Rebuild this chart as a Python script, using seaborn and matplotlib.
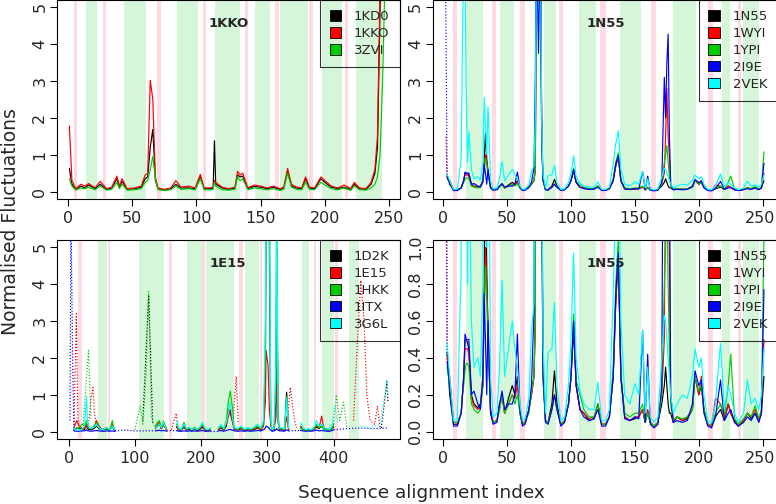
import matplotlib
matplotlib.use("Agg")
import matplotlib.pyplot as plt
import matplotlib.transforms as mtransforms
from matplotlib.patches import Patch
import seaborn as sns

sns.set_theme(style="white")
plt.rcParams['font.family'] = ['DejaVu Sans']

# R palette 1:5
pal = ['#000000', '#FF0000', '#00CD00', '#0000FF', '#00FFFF']
pink = '#FFDAE2'
mint = '#D6F6D9'

# ---------------- panel 1KKO ----------------
kko_labels = ['1KD0', '1KKO', '3ZVI']
kko_x = [1, 3, 6, 10, 13, 16, 21, 25, 30, 34,
         38, 40, 42, 46, 52, 57, 60, 62, 64, 66,
         68, 70, 75, 80, 84, 88, 94, 99, 103, 106,
         110, 113, 114, 115, 120, 125, 130, 132, 134, 136,
         140, 145, 150, 155, 160, 165, 168, 171, 174, 178,
         182, 185, 188, 192, 197, 200, 205, 210, 215, 220,
         223, 227, 232, 236, 239, 241, 243, 245, 247, 249]
kko_1kd0 = [0.63, 0.20, 0.06, 0.15, 0.10, 0.18, 0.08, 0.20, 0.06, 0.10,
            0.35, 0.12, 0.28, 0.06, 0.08, 0.12, 0.35, 0.40, 1.20, 1.69,
            0.30, 0.08, 0.05, 0.08, 0.20, 0.10, 0.10, 0.08, 0.40, 0.08,
            0.08, 0.10, 1.38, 0.20, 0.10, 0.06, 0.10, 0.45, 0.40, 0.42,
            0.08, 0.14, 0.12, 0.08, 0.12, 0.06, 0.10, 0.55, 0.15, 0.10,
            0.08, 0.35, 0.10, 0.08, 0.35, 0.25, 0.12, 0.08, 0.12, 0.06,
            0.20, 0.08, 0.06, 0.20, 0.50, 1.20, 5.00, 7.50, 9.00, 10.0]
kko_1kko = [1.78, 0.30, 0.08, 0.20, 0.15, 0.22, 0.10, 0.28, 0.08, 0.12,
            0.42, 0.15, 0.35, 0.08, 0.10, 0.15, 0.45, 0.50, 3.02, 2.50,
            0.40, 0.10, 0.06, 0.10, 0.30, 0.12, 0.15, 0.10, 0.47, 0.10,
            0.10, 0.12, 0.30, 0.25, 0.12, 0.08, 0.12, 0.55, 0.45, 0.50,
            0.10, 0.18, 0.15, 0.10, 0.15, 0.08, 0.12, 0.63, 0.20, 0.12,
            0.10, 0.40, 0.12, 0.10, 0.40, 0.30, 0.15, 0.10, 0.18, 0.08,
            0.25, 0.10, 0.08, 0.25, 0.60, 1.50, 5.50, 8.00, 9.00, 10.0]
kko_3zvi = [0.35, 0.15, 0.04, 0.10, 0.08, 0.12, 0.05, 0.15, 0.04, 0.06,
            0.25, 0.08, 0.20, 0.04, 0.05, 0.08, 0.25, 0.30, 0.60, 0.95,
            0.35, 0.05, 0.03, 0.05, 0.15, 0.06, 0.08, 0.05, 0.35, 0.05,
            0.05, 0.06, 0.25, 0.15, 0.05, 0.04, 0.06, 0.40, 0.30, 0.35,
            0.05, 0.10, 0.08, 0.05, 0.08, 0.03, 0.06, 0.50, 0.12, 0.06,
            0.05, 0.25, 0.06, 0.05, 0.25, 0.18, 0.08, 0.05, 0.10, 0.03,
            0.15, 0.05, 0.04, 0.10, 0.20, 0.40, 1.00, 3.00, 6.00, 9.00]
kko_pink = [(4.9, 6.8), (27, 29.4), (69, 72), (104.9, 107.2), (137.9, 140.4),
            (161.5, 164), (188, 191), (215.7, 217.8)]
kko_mint = [(14, 22.8), (43.9, 61), (85, 101.5), (114.5, 134), (145.5, 157),
            (165, 187), (197.5, 213), (224.5, 244.3)]

# ---------------- panel 1N55 (top right and bottom right) ----------------
n55_labels = ['1N55', '1WYI', '1YPI', '2I9E', '2VEK']
n55_x = [3, 5, 8, 11, 14, 15, 16, 17, 18, 19,
         20, 22, 24, 27, 29, 31, 32, 33, 34, 35,
         37, 39, 42, 44, 46, 48, 51, 54, 56, 58,
         60, 62, 64, 67, 69, 71, 72, 73, 74.5, 76,
         77, 78, 80, 82, 85, 87, 89, 92, 95, 98,
         100, 102, 104, 107, 110, 114, 118, 121, 124, 127,
         130, 133, 135, 137, 139, 142, 146, 150, 153, 156,
         158, 160, 162, 165, 168, 171, 173, 174, 175, 176,
         177, 178, 180, 183, 187, 191, 195, 197, 200, 202,
         204, 207, 210, 213, 217, 220, 223, 225, 228, 231,
         235, 238, 241, 244, 247, 249, 251]
n55_1n55 = [.43, .20, .04, .04, .10, .20, .30, .50, .50, .48,
            .45, .20, .15, .13, .15, .25, .80, 1.60, .90, .50,
            .12, .05, .06, .15, .20, .10, .18, .25, .20, .30,
            .10, .04, .05, .12, .20, .30, .60, 7.0, 7.0, 7.0,
            1.5, .30, .06, .05, .15, .33, .15, .04, .06, .15,
            .30, .55, .25, .12, .10, .06, .07, .15, .04, .04,
            .08, .30, .70, .95, .30, .08, .06, .07, .08, .12,
            .05, .10, .05, .03, .05, .15, .25, .35, .25, .15,
            .10, .10, .05, .08, .06, .07, .12, .30, .20, .25,
            .12, .04, .03, .08, .12, .06, .15, .10, .06, .03,
            .06, .10, .07, .10, .06, .10, .30]
n55_1wyi = [.40, .30, .05, .05, .10, .20, .30, .45, .45, .45,
            .42, .18, .14, .12, .14, .30, .70, 1.00, .80, .60,
            .10, .05, .06, .12, .20, .10, .15, .20, .18, .25,
            .10, .04, .05, .12, .20, .30, .60, 7.0, 7.0, 7.0,
            1.5, .30, .06, .05, .12, .20, .12, .04, .06, .15,
            .30, .60, .25, .12, .10, .07, .08, .15, .04, .04,
            .08, .30, .70, .95, .30, .08, .06, .08, .08, .12,
            .05, .12, .05, .03, .05, .20, .50, 1.50, 2.80, 1.50,
            .95, .20, .06, .08, .06, .08, .12, .30, .20, .30,
            .12, .04, .03, .18, .15, .07, .15, .10, .05, .03,
            .06, .10, .08, .12, .06, .10, .50]
n55_1ypi = [.35, .25, .05, .05, .10, .20, .25, .33, .37, .37,
            .35, .15, .12, .10, .12, .25, .60, .90, .70, .50,
            .10, .05, .06, .12, .20, .10, .15, .20, .15, .20,
            .10, .04, .05, .10, .22, .30, .60, 7.0, 7.0, 7.0,
            1.5, .30, .06, .05, .12, .20, .12, .04, .06, .15,
            .30, .64, .28, .20, .12, .08, .08, .15, .04, .04,
            .08, .35, .80, 1.05, .30, .10, .08, .10, .10, .15,
            .05, .10, .05, .03, .05, .20, .80, 1.00, 1.25, .80,
            .40, .15, .06, .08, .07, .08, .12, .30, .22, .25,
            .12, .04, .04, .10, .15, .08, .25, .42, .07, .04,
            .07, .10, .08, .14, .07, .12, 1.08]
n55_2i9e = [.38, .25, .03, .03, .10, .20, .30, .53, .50, .50,
            .50, .20, .22, .15, .12, .30, .75, .50, .20, .60,
            .10, .04, .05, .15, .22, .12, .15, .15, .20, .53,
            .12, .03, .04, .12, .25, .65, 3.0, 7.0, 3.75, 7.0,
            2.0, .35, .05, .04, .12, .20, .12, .03, .05, .15,
            .30, .60, .25, .12, .08, .06, .07, .12, .03, .03,
            .08, .30, .75, .97, .30, .07, .06, .08, .07, .55,
            .05, .42, .04, .02, .04, .25, 3.10, 2.00, 3.50, 4.27,
            1.50, .20, .05, .06, .05, .06, .15, .33, .25, .28,
            .10, .03, .02, .08, .28, .06, .10, .12, .05, .03,
            .05, .08, .06, .10, .05, .10, .77]
n55_2vek = [.48, .30, .06, .07, .90, 4.0, 6.5, 6.0, 2.40, .80,
            1.63, .60, .35, .40, .30, .80, 2.55, 1.80, 1.00, 2.30,
            .30, .08, .10, .35, .82, .30, .45, .60, .45, .35,
            .15, .06, .07, .18, .55, .70, 2.0, 7.0, 7.0, 7.0,
            2.0, .50, .10, .43, .45, .70, .25, .06, .08, .25,
            .50, .97, .40, .22, .15, .12, .12, .27, .06, .06,
            .12, .75, 1.30, 1.65, .60, .20, .15, .26, .20, .55,
            .10, .35, .08, .05, .08, .40, .63, .60, .50, .40,
            .30, .20, .10, .15, .20, .18, .30, .45, .35, .40,
            .20, .06, .05, .15, .48, .12, .25, .20, .10, .05,
            .10, .28, .15, .18, .12, .20, .45]
# gap residues drawn dotted
n55_dot_red = [(2, 1.5), (3, 0.40)]
n55_dot_blue = [(1.5, 7.0), (3, 0.38)]
n55_pink = [(7.3, 11.1), (38, 41.5), (60, 64), (90.8, 93.8), (122.6, 127),
            (162.6, 166.2), (207.5, 210.9), (230.4, 233)]
n55_mint = [(17.6, 31), (44, 55), (79.2, 88), (106.2, 119.8), (138.3, 154.5),
            (179.5, 197.8), (218.2, 224.4), (234.3, 247.4)]

# ---------------- panel 1E15 ----------------
e15_labels = ['1D2K', '1E15', '1HKK', '1ITX', '3G6L']
e15_seg_x = [
    [8, 12, 16, 20, 24, 27, 28, 30, 34, 38, 42, 46, 50, 54, 58, 62, 66, 68, 70],
    [131, 134, 137, 140, 143, 146, 148],
    [163, 166, 170, 174, 178, 182, 186, 190, 194, 198, 202, 206, 210, 214],
    [226, 230, 234, 238, 241, 244, 247, 250, 255, 260, 265, 270, 275, 280, 285, 290,
     294, 297, 298, 301, 303, 305, 307, 310, 313, 314, 316, 318, 322, 326, 329, 332],
    [350, 354, 358, 362, 366, 370, 374, 378, 382, 384, 386, 390, 394, 398, 400],
]
e15_1d2k = [
    [.05, .10, .08, .08, .06, .20, .10, .06, .05, .08, .15, .08, .04, .05, .06, .04, .15, .06, .04],
    [.08, .15, .20, .08, .20, .10, .05],
    [.12, .05, .03, .12, .04, .06, .03, .08, .03, .06, .12, .04, .03, .05],
    [.05, .10, .04, .15, .60, .50, .30, .06, .04, .08, .03, .05, .04, .06, .10, .05,
     .15, 1.5, 7.0, 7.0, 5.0, .20, .03, .05, .80, 5.0, .30, .06, .05, .04, 1.07, .05],
    [.12, .05, .03, .05, .03, .06, .12, .08, .15, .10, .06, .05, .04, .08, .12],
]
e15_1e15 = [
    [.10, .30, .15, .10, .08, .20, .15, .10, .08, .12, .30, .15, .06, .08, .10, .06, .20, .08, .05],
    [.10, .20, .25, .08, .20, .10, .06],
    [.15, .06, .04, .15, .05, .08, .04, .10, .04, .08, .15, .05, .04, .06],
    [.06, .12, .05, .20, .40, .60, .30, .08, .05, .10, .04, .06, .05, .08, .12, .06,
     .15, .80, 2.2, 1.8, .60, .20, .04, .06, .40, 1.3, .50, .08, .06, .05, .40, .06],
    [.15, .06, .04, .06, .04, .08, .15, .10, .42, .20, .08, .06, .05, .10, .15],
]
e15_1hkk = [
    [.05, .08, .10, .20, .15, .30, .20, .10, .08, .15, .25, .12, .05, .06, .08, .05, .30, .10, .05],
    [.15, .25, .30, .10, .28, .15, .08],
    [.20, .08, .05, .25, .06, .10, .05, .12, .05, .10, .20, .06, .05, .08],
    [.08, .15, .06, .30, .80, 1.10, .70, .10, .06, .12, .05, .08, .06, .10, .15, .08,
     .20, 2.0, 7.0, 7.0, 7.0, .30, .04, .08, 1.5, 7.0, .30, .08, .08, .06, .95, .08],
    [.10, .05, .03, .06, .03, .08, .20, .10, .15, .10, .06, .05, .04, .10, .20],
]
e15_1itx = [
    [.02, .01, .01, .02, .02, .05, .03, .02, .01, .02, .03, .02, .01, .01, .02, .01, .02, .01, .01],
    [.02, .03, .04, .02, .03, .02, .01],
    [.03, .01, .01, .02, .01, .02, .01, .02, .01, .02, .03, .01, .01, .02],
    [.02, .03, .01, .03, .05, .06, .04, .02, .01, .02, .01, .02, .01, .02, .03, .02,
     .05, .10, .15, .12, .08, .04, .01, .02, .05, .08, .04, .02, .02, .01, .05, .02],
    [.03, .02, .01, .02, .01, .02, .04, .02, .03, .02, .02, .01, .01, .03, .05],
]
e15_3g6l = [
    [.10, .05, .03, .08, .15, .95, .40, .15, .08, .12, .20, .10, .05, .08, .10, .06, .15, .08, .05],
    [.10, .15, .20, .12, .25, .10, .08],
    [.30, .10, .05, .20, .08, .12, .05, .10, .06, .12, .25, .08, .05, .10],
    [.10, .20, .08, .25, .50, .80, .40, .10, .08, .15, .06, .10, .08, .12, .20, .10,
     .30, 3.0, 7.0, 7.0, 7.0, .40, .05, .10, 2.0, 7.0, .40, .10, .10, .08, .90, .10],
    [.25, .10, .05, .08, .05, .10, .30, .15, .20, .15, .10, .08, .06, .20, .30],
]
# gap regions (dotted)
e15_dot_1d2k = [[(112, .3), (120.8, 3.7), (127, .2)],
                [(472, .1), (480.5, 1.35), (482, .8)]]
e15_dot_1e15 = [[(8, .1), (11.6, 3.2), (14, .4), (16, .1)],
                [(30, .2), (34, .9), (36.7, 1.2), (39, .5), (42, .2)],
                [(155, .05), (162.5, .5), (165, .1)],
                [(248, .3), (253, 1.5), (256, .2)],
                [(330, .3), (334.6, 1.2), (340, .4), (344, .1)],
                [(430, .3), (436, 2.5), (441, 4.1), (446, 3.0), (450, 1.0), (455, .3),
                 (462, .2), (466, .7), (470, .1)]]
e15_dot_1hkk = [[(22, .2), (30, 2.2), (34, .3)],
                [(100, .05), (108, .7), (112, .2), (117, 1.5), (120.8, 3.8), (125, .4), (130, .1)],
                [(400, .2), (404, 1.0), (409, .3), (415, .8), (420, .1)]]
e15_dot_1itx = [[(2, .3), (3.5, 6.0), (6, 2.0), (8, .02)],
                [(70, .02), (85, .04), (100, .02), (131, .02)],
                [(148, .02), (163, .03)],
                [(214, .02), (226, .02)],
                [(332, .02), (350, .03)],
                [(400, .05), (420, .08), (440, .1), (460, .08), (482, .1)]]
e15_dot_3g6l = [[(398, .3), (402, .7), (406, .2)],
                [(440, .15), (455, .1), (470, .2), (480.5, 1.4), (482, 1.0)]]
e15_pink = [(14, 19.5), (58.9, 63), (151, 156), (202, 206.3), (257.6, 262.7),
            (288.3, 292), (370, 374), (402, 406.5)]
e15_mint = [(44, 58), (106.7, 143.4), (178.7, 201.4), (208, 250), (266.7, 286.8),
            (352.3, 363.3), (382.5, 401), (423.7, 437.7)]

DOT = (0, (1, 1.6))
LW = 0.85


def solid(ax, xs, ys, c):
    sns.lineplot(x=xs, y=ys, color=c, lw=LW, ax=ax, estimator=None, sort=False)


def dotted(ax, pts, c):
    xs = [p[0] for p in pts]
    ys = [p[1] for p in pts]
    sns.lineplot(x=xs, y=ys, color=c, lw=LW, ax=ax, estimator=None, sort=False,
                 linestyle=DOT)


def setup(ax, xlim, ylim, xticks, yticks, ylabels, pinks, mints, title, ty, labels):
    for a, b in mints:
        ax.axvspan(a, b, color=mint, lw=0, zorder=0)
    for a, b in pinks:
        ax.axvspan(a, b, color=pink, lw=0, zorder=0)
    ax.set_xlim(*xlim)
    ax.set_ylim(*ylim)
    ax.set_xticks(xticks)
    ax.set_xticklabels([str(t) for t in xticks], fontsize=11.5)
    ax.set_yticks(yticks)
    ax.set_yticklabels(ylabels, fontsize=11.5, rotation=90, va='center')
    ax.tick_params(direction='out', length=5, width=0.8, color='black', pad=3.5,
                   left=True, bottom=True)
    ax.tick_params(axis='y', pad=2)
    for s in ax.spines.values():
        s.set_color('black')
        s.set_linewidth(0.8)
    ax.set_xlabel('')
    ax.set_ylabel('')
    ax.text(sum(xlim) / 2, ty, title, ha='center', va='center',
            fontsize=9.5, fontweight='bold', zorder=6)
    handles = [Patch(facecolor=pal[i], edgecolor='black', lw=0.6) for i in range(len(labels))]
    leg = ax.legend(handles, labels, loc='upper right', borderaxespad=0, fontsize=9.5,
                    frameon=True, fancybox=False, handlelength=0.85, handleheight=0.85,
                    handletextpad=1.0, labelspacing=0.3, borderpad=0.75)
    leg.get_frame().set_edgecolor('black')
    leg.get_frame().set_facecolor('none')
    leg.get_frame().set_linewidth(0.8)


fig = plt.figure(figsize=(7.76, 5.04), dpi=100)
ax_tl = fig.add_axes([0.0735, 0.6052, 0.4414, 0.3948])
ax_tr = fig.add_axes([0.5576, 0.6052, 0.4450, 0.3948])
ax_bl = fig.add_axes([0.0735, 0.1290, 0.4414, 0.3948])
ax_br = fig.add_axes([0.5576, 0.1290, 0.4450, 0.3948])

# top left
for ys, c in zip([kko_1kd0, kko_1kko, kko_3zvi], pal):
    solid(ax_tl, kko_x, ys, c)
setup(ax_tl, (-8.6, 258.2), (-0.2, 5.2), [0, 50, 100, 150, 200, 250],
      [0, 1, 2, 3, 4, 5], ['0', '1', '2', '3', '4', '5'],
      kko_pink, kko_mint, '1KKO', 4.57, kko_labels)

# right panels share the data
n55_series = [n55_1n55, n55_1wyi, n55_1ypi, n55_2i9e, n55_2vek]
for ax in (ax_tr, ax_br):
    dotted(ax, n55_dot_red, pal[1])
    dotted(ax, n55_dot_blue, pal[3])
    for ys, c in zip(n55_series, pal):
        solid(ax, n55_x, ys, c)
setup(ax_tr, (-8.3, 262), (-0.2, 5.2), [0, 50, 100, 150, 200, 250],
      [0, 1, 2, 3, 4, 5], ['0', '1', '2', '3', '4', '5'],
      n55_pink, n55_mint, '1N55', 4.57, n55_labels)
setup(ax_br, (-8.3, 262), (-0.04, 1.04), [0, 50, 100, 150, 200, 250],
      [0, 0.2, 0.4, 0.6, 0.8, 1.0], ['0.0', '0.2', '0.4', '0.6', '0.8', '1.0'],
      n55_pink, n55_mint, '1N55', 0.914, n55_labels)

# keep the last x label of the right panels inside the canvas
for ax in (ax_tr, ax_br):
    lab = ax.get_xticklabels()[-1]
    lab.set_transform(lab.get_transform() +
                      mtransforms.ScaledTranslation(-3 / 100, 0, fig.dpi_scale_trans))

# bottom left
e15_solid = [e15_1d2k, e15_1e15, e15_1hkk, e15_1itx, e15_3g6l]
e15_dots = [e15_dot_1d2k, e15_dot_1e15, e15_dot_1hkk, e15_dot_1itx, e15_dot_3g6l]
for segs, dots, c in zip(e15_solid, e15_dots, pal):
    for xs, ys in zip(e15_seg_x, segs):
        solid(ax_bl, xs, ys, c)
    for pts in dots:
        dotted(ax_bl, pts, c)
setup(ax_bl, (-17.5, 499.5), (-0.2, 5.2), [0, 100, 200, 300, 400],
      [0, 1, 2, 3, 4, 5], ['0', '1', '2', '3', '4', '5'],
      e15_pink, e15_mint, '1E15', 4.57, e15_labels)

fig.text(0.5425, 0.022, 'Sequence alignment index', ha='center', va='center', fontsize=13.3)
fig.text(0.013, 0.561, 'Normalised Fluctuations', ha='center', va='center',
         rotation=90, fontsize=13.5)

fig.savefig('out.png', dpi=100)
